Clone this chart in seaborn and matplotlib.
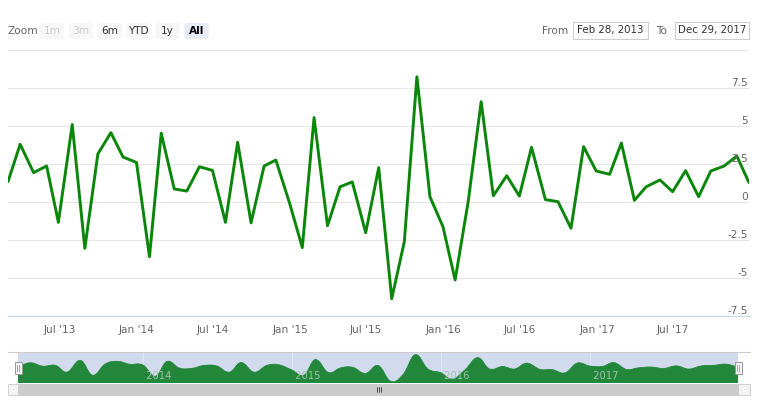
import matplotlib
matplotlib.use("Agg")
import matplotlib.pyplot as plt
import matplotlib.dates as mdates
from matplotlib.patches import FancyBboxPatch, Rectangle, PathPatch, Polygon
from matplotlib.path import Path
from matplotlib.lines import Line2D
import numpy as np
import pandas as pd
import seaborn as sns

# monthly values, Feb 2013 .. Dec 2017 (business month ends)
start_date = "2013-02-28"
end_date = "2017-12-29"
values = [
    1.34, 3.8, 1.93, 2.37, -1.34, 5.1, -3.05, 3.16, 4.56, 2.96, 2.6,
    -3.6, 4.52, 0.86, 0.72, 2.32, 2.08, -1.34, 3.93, -1.37, 2.37, 2.76, -0.1,
    -3.0, 5.55, -1.56, 1.0, 1.32, -2.02, 2.26, -6.36, -2.61, 8.24, 0.35, -1.62,
    -5.13, 0.0, 6.6, 0.41, 1.73, 0.39, 3.6, 0.16, 0.02, -1.73, 3.64, 2.04,
    1.82, 3.88, 0.11, 1.0, 1.45, 0.68, 2.06, 0.35, 2.04, 2.37, 3.03, 1.27,
]
y_ticks = [-7.5, -5, -2.5, 0, 2.5, 5, 7.5, 10]
y_labels = ["-7.5", "-5", "-2.5", "0", "2.5", "5", "7.5", ""]
nav_years = ["2014", "2015", "2016", "2017"]
zoom_buttons = ["1m", "3m", "6m", "YTD", "1y", "All"]
range_from = "Feb 28, 2013"
range_to = "Dec 29, 2017"

dates = pd.date_range(start=start_date, periods=len(values), freq=pd.offsets.BMonthEnd())
df = pd.DataFrame({"date": dates, "value": values})

W, H = 760, 404
sns.set_style("white")
plt.rcParams["font.family"] = ["DejaVu Sans"]

fig = plt.figure(figsize=(W / 100, H / 100), dpi=100)


def px_rect(x0, y0, x1, y1):
    return [x0 / W, 1 - y1 / H, (x1 - x0) / W, (y1 - y0) / H]


def fx(x):
    return x / W


def fy(y):
    return 1 - y / H


# ---- main chart
ax = fig.add_axes(px_rect(8, 50, 749, 316))
sns.lineplot(data=df, x="date", y="value", ax=ax, color="#0a860a", linewidth=2.1)
ax.set_xlim(pd.Timestamp(start_date), pd.Timestamp(end_date))
ax.set_ylim(-7.5, 10)
ax.set_xlabel("")
ax.set_ylabel("")
for side in ["top", "left", "right"]:
    ax.spines[side].set_visible(False)
ax.spines["bottom"].set_color("#ccd6eb")
ax.spines["bottom"].set_linewidth(0.8)

ax.set_yticks(y_ticks)
ax.set_yticklabels([])
ax.tick_params(axis="y", length=0)
ax.grid(axis="y", color="#e6e6e6", linewidth=0.8)
ax.set_axisbelow(True)

ax.xaxis.set_major_locator(mdates.MonthLocator(bymonth=[1, 7]))
ax.xaxis.set_major_formatter(mdates.DateFormatter("%b '%y"))
ax.tick_params(axis="x", length=5, width=0.8, color="#ccd6eb", labelsize=7.6,
               labelcolor="#666666", pad=1.5)

ytrans = ax.get_yaxis_transform()
for val, lab in zip(y_ticks, y_labels):
    ax.text(0.9985, val, lab, transform=ytrans, ha="right", va="bottom",
            fontsize=7.6, color="#666666")

# ---- navigator
nav = fig.add_axes(px_rect(18, 352, 738, 383))
nav.set_facecolor("#d2dbee")
for s in nav.spines.values():
    s.set_visible(False)
nav.set_xticks([])
nav.set_yticks([])
nav.set_xlim(mdates.date2num(pd.Timestamp(start_date)), mdates.date2num(pd.Timestamp(end_date)))
nav_lo, nav_hi = -7.3, 9.7
nav.set_ylim(nav_lo, nav_hi)

xs = mdates.date2num(df["date"])
ys = np.asarray(values, dtype=float)


def spline_area(xs, ys, base, smoothing=1.5):
    d = smoothing + 1
    n = len(xs)
    lc = [(xs[0], ys[0])] * n
    rc = [(xs[0], ys[0])] * n
    lc[-1] = rc[-1] = (xs[-1], ys[-1])
    for i in range(1, n - 1):
        lx = (smoothing * xs[i] + xs[i - 1]) / d
        ly = (smoothing * ys[i] + ys[i - 1]) / d
        rx = (smoothing * xs[i] + xs[i + 1]) / d
        ry = (smoothing * ys[i] + ys[i + 1]) / d
        if rx != lx:
            corr = (ry - ly) * (rx - xs[i]) / (rx - lx) + ys[i] - ry
            ly += corr
            ry += corr
        lc[i] = (lx, ly)
        rc[i] = (rx, ry)
    verts = [(xs[0], base), (xs[0], ys[0])]
    codes = [Path.MOVETO, Path.LINETO]
    for i in range(1, n):
        verts += [rc[i - 1], lc[i], (xs[i], ys[i])]
        codes += [Path.CURVE4] * 3
    verts += [(xs[-1], base), (xs[0], base)]
    codes += [Path.LINETO, Path.CLOSEPOLY]
    return Path(verts, codes)


nav.add_patch(PathPatch(spline_area(xs, ys, nav_lo), facecolor="#22873a",
                        edgecolor="#22873a", linewidth=0.6, zorder=2))
xtr = nav.get_xaxis_transform()
for yr in nav_years:
    xv = mdates.date2num(pd.Timestamp(f"{yr}-01-01"))
    nav.axvline(xv, color="#e2e7f3", linewidth=0.7, zorder=1)
    nav.text(xv, 0.06, " " + yr, transform=xtr, ha="left", va="bottom",
             fontsize=7.2, color="#a3bfa8", zorder=3)

# navigator outline + handles
fig.add_artist(Line2D([fx(8), fx(750)], [fy(352.3), fy(352.3)], color="#cccccc", linewidth=0.8))
for hx in [18, 738]:
    fig.add_artist(Rectangle((fx(hx - 3.5), fy(373.5)), 7 / W, 12 / H, facecolor="#f2f2f2",
                             edgecolor="#999999", linewidth=0.7, transform=fig.transFigure))
    for dx in (-1.2, 1.2):
        fig.add_artist(Line2D([fx(hx + dx), fx(hx + dx)], [fy(364.5), fy(370.5)],
                              color="#999999", linewidth=0.6))

# scrollbar
fig.add_artist(Rectangle((fx(8), fy(395)), 742 / W, 11 / H, facecolor="#f2f2f2",
                         edgecolor="#cccccc", linewidth=0.6, transform=fig.transFigure))
fig.add_artist(Rectangle((fx(18), fy(395)), 720 / W, 11 / H, facecolor="#cccccc",
                         edgecolor="#cccccc", linewidth=0.6, transform=fig.transFigure))
fig.add_artist(Polygon([(fx(11.5), fy(389.5)), (fx(14), fy(387.5)), (fx(14), fy(391.5))],
                       closed=True, facecolor="#333333", transform=fig.transFigure))
fig.add_artist(Polygon([(fx(746.5), fy(389.5)), (fx(744), fy(387.5)), (fx(744), fy(391.5))],
                       closed=True, facecolor="#333333", transform=fig.transFigure))
for gx in (376.5, 378.5, 380.5):
    fig.add_artist(Line2D([fx(gx), fx(gx)], [fy(387), fy(392)], color="#333333", linewidth=0.6))

# ---- range selector
fig.text(fx(8), fy(31), "Zoom", ha="left", va="center", fontsize=7.6, color="#666666")
btn_x = [40, 69, 98, 126.5, 155.5, 184.5]
for bx, lab in zip(btn_x, zoom_buttons):
    selected = lab == "All"
    disabled = lab in ("1m", "3m")
    fill = "#e6ebf5" if selected else "#f7f7f7"
    fig.add_artist(FancyBboxPatch((fx(bx), fy(39)), 24 / W, 16 / H,
                                  boxstyle="round,pad=0,rounding_size=0.004",
                                  facecolor=fill, edgecolor="none", transform=fig.transFigure))
    col = "#cccccc" if disabled else ("#000000" if selected else "#333333")
    fig.text(fx(bx + 12), fy(31), lab, ha="center", va="center", fontsize=7.6,
             color=col, fontweight="bold" if selected else "normal")

fig.text(fx(542), fy(31), "From", ha="left", va="center", fontsize=7.6, color="#666666")
fig.add_artist(Rectangle((fx(572.5), fy(39)), 75 / W, 17 / H, facecolor="white",
                         edgecolor="#cccccc", linewidth=0.7, transform=fig.transFigure))
fig.text(fx(610), fy(30.5), range_from, ha="center", va="center", fontsize=7.4, color="#333333")
fig.text(fx(656), fy(31), "To", ha="left", va="center", fontsize=7.6, color="#666666")
fig.add_artist(Rectangle((fx(675), fy(39)), 74 / W, 17 / H, facecolor="white",
                         edgecolor="#cccccc", linewidth=0.7, transform=fig.transFigure))
fig.text(fx(712), fy(30.5), range_to, ha="center", va="center", fontsize=7.4, color="#333333")

fig.savefig("out.png", dpi=100)
